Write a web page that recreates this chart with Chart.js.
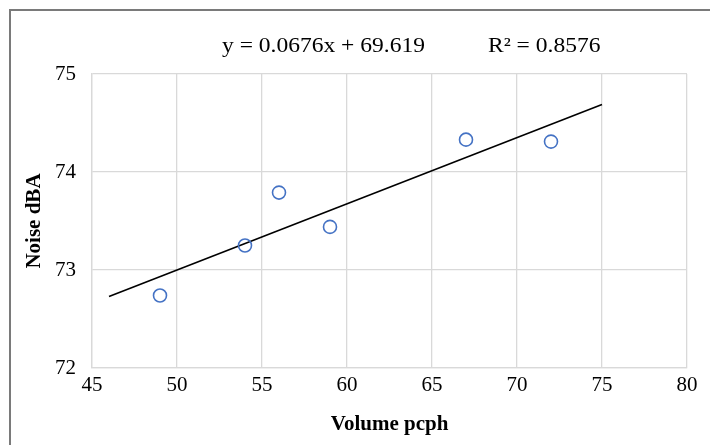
<!DOCTYPE html>
<html>
<head>
<meta charset="utf-8">
<script src="https://cdn.jsdelivr.net/npm/chart.js@4"></script>
<style>
  body { margin: 0; background: #fff; overflow: hidden; }
  .wrap { position: relative; width: 710px; height: 445px; }
  .frame {
    position: absolute; left: 9px; top: 9px; width: 900px; height: 700px;
    border: 2px solid #7a7a7a; box-sizing: border-box;
  }
  canvas { position: absolute; left: 0; top: 0; }
</style>
</head>
<body>
<div class="wrap">
  <div class="frame"></div>
  <canvas id="noiseChart" width="710" height="445"></canvas>
</div>
<script>
// observed points
const volume = [49, 54, 56, 59, 67, 72];
const noise = [72.74, 73.25, 73.79, 73.44, 74.33, 74.31];

// linear trendline (as drawn, ends at 46 and 75)
const trendX = [46, 75];
const trendY = [72.73, 74.69];
const equationText = "y = 0.0676x + 69.619";
const r2Text = "R² = 0.8576";

const xTicks = [45, 50, 55, 60, 65, 70, 75, 80];
const yTicks = [72, 73, 74, 75];

const font = "'Liberation Serif', 'Times New Roman', serif";
const gridColor = "#d9d9d9";

// the label text is a bit wider than the font, so stretch it sideways
const equationLabel = {
  id: "equationLabel",
  afterDraw: (chart) => {
    const ctx = chart.ctx;
    const stretch = 1.12;
    ctx.save();
    ctx.fillStyle = "#000";
    ctx.font = "21px " + font;
    ctx.textBaseline = "middle";
    ctx.textAlign = "left";
    ctx.scale(stretch, 1);
    ctx.fillText(equationText, 222 / stretch, 46);
    ctx.fillText(r2Text, 488 / stretch, 46);
    ctx.restore();
  },
};

new Chart(document.getElementById("noiseChart").getContext("2d"), {
  type: "scatter",
  data: {
    datasets: [
      {
        label: "Noise",
        data: volume.map((v, i) => ({ x: v, y: noise[i] })),
        pointStyle: "circle",
        pointRadius: 6.5,
        pointHoverRadius: 6.5,
        pointBorderWidth: 1.6,
        pointBorderColor: "#4472C4",
        pointBackgroundColor: "rgba(255,255,255,0)",
        showLine: false,
        order: 1,
      },
      {
        label: "Trend",
        data: trendX.map((v, i) => ({ x: v, y: trendY[i] })),
        showLine: true,
        borderColor: "#000",
        borderWidth: 1.6,
        pointRadius: 0,
        order: 2,
      },
    ],
  },
  options: {
    responsive: false,
    animation: false,
    layout: { padding: { left: 22, right: 23, top: 74, bottom: 8 } },
    plugins: {
      legend: { display: false },
      tooltip: { enabled: false },
    },
    scales: {
      x: {
        type: "linear",
        min: xTicks[0],
        max: xTicks[xTicks.length - 1],
        afterBuildTicks: (s) => { s.ticks = xTicks.map((v) => ({ value: v })); },
        grid: { color: gridColor, lineWidth: 1.3, drawTicks: false },
        border: { color: gridColor, width: 1.3 },
        ticks: { color: "#000", font: { family: font, size: 21 }, padding: 5 },
        title: {
          display: true,
          text: "Volume pcph",
          color: "#000",
          font: { family: font, size: 21, weight: "bold" },
          padding: { top: 4, bottom: 0 },
        },
        afterFit: (s) => { s.height = 69; },
      },
      y: {
        type: "linear",
        min: yTicks[0],
        max: yTicks[yTicks.length - 1],
        afterBuildTicks: (s) => { s.ticks = yTicks.map((v) => ({ value: v })); },
        grid: { color: gridColor, lineWidth: 1.3, drawTicks: false },
        border: { color: gridColor, width: 1.3 },
        ticks: { color: "#000", font: { family: font, size: 21 }, padding: 16 },
        title: {
          display: true,
          text: "Noise dBA",
          color: "#000",
          font: { family: font, size: 21, weight: "bold" },
          padding: { top: 0, bottom: 0 },
        },
        afterFit: (s) => { s.width = 70; },
      },
    },
  },
  plugins: [equationLabel],
});
</script>
</body>
</html>
